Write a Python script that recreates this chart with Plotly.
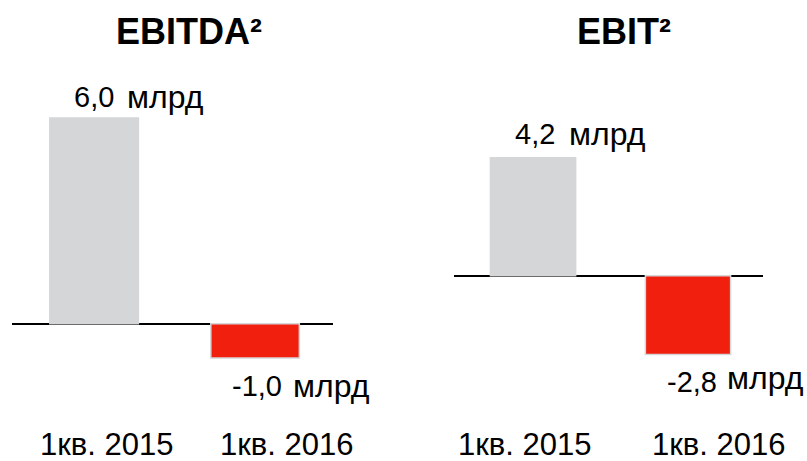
import plotly.graph_objects as go

# ---- data ----
categories = ["1кв. 2015", "1кв. 2016"]
ebitda_values = [6.0, -1.0]
ebit_values = [4.2, -2.8]
ebitda_labels = ["6,0", "-1,0"]
ebit_labels = ["4,2", "-2,8"]
unit = "млрд"
titles = ["EBITDA²", "EBIT²"]

GREY = "#D5D6D8"
RED = "#F01F0E"
FONT = "Liberation Sans, Arial, sans-serif"
W, H = 807, 461

fig = go.Figure()
x_pos = [0, 1]
fig.add_trace(go.Bar(x=x_pos, y=ebitda_values, width=0.55,
                     marker=dict(color=[GREY, RED], line=dict(color=GREY, width=1.5)),
                     xaxis="x", yaxis="y", showlegend=False, hoverinfo="skip"))
fig.add_trace(go.Bar(x=x_pos, y=ebit_values, width=0.55,
                     marker=dict(color=[GREY, RED], line=dict(color=GREY, width=1.5)),
                     xaxis="x2", yaxis="y2", showlegend=False, hoverinfo="skip"))

common_x = dict(showgrid=False, zeroline=False, showticklabels=False, showline=False,
                ticks="", range=[-0.51, 1.484], fixedrange=True)
common_y = dict(showgrid=False, zeroline=True, zerolinecolor="black", zerolinewidth=2,
                showticklabels=False, showline=False, ticks="", domain=[0, 1], fixedrange=True)

fig.update_layout(
    width=W, height=H,
    margin=dict(l=0, r=0, t=0, b=0),
    paper_bgcolor="white", plot_bgcolor="rgba(0,0,0,0)",
    xaxis=dict(domain=[12 / W, 333 / W], anchor="y", **common_x),
    yaxis=dict(range=[-4.0, 9.44], anchor="x", **common_y),
    xaxis2=dict(domain=[454 / W, 763 / W], anchor="y2", **common_x),
    yaxis2=dict(range=[-6.594, 9.811], anchor="x2", **common_y),
    bargap=0,
)

annotations = []

def add_text(text, xref, yref, x, y, xanchor, yanchor, xshift=0, yshift=0, size=28, bold=False):
    annotations.append(dict(
        text=f"<b>{text}</b>" if bold else text, xref=xref, yref=yref, x=x, y=y,
        xanchor=xanchor, yanchor=yanchor, xshift=xshift, yshift=yshift, showarrow=False,
        borderpad=0, font=dict(family=FONT, size=size, color="black")))

NUM_SIZE, UNIT_SIZE, CAT_SIZE, TITLE_SIZE = 29, 32, 31, 36

# value labels (number + unit): (number xshift, unit xshift, number yshift, unit yshift)
label_offsets_left = [(21, 32, 21, 21), (28, 37, -28, -28)]
label_offsets_right = [(23, 35, 24, 24), (30, 38, -28, -24)]
for i in range(2):
    nx, ux, ny, uy = label_offsets_left[i]
    add_text(ebitda_labels[i], "x", "y", x_pos[i], ebitda_values[i], "right", "middle", nx, ny, NUM_SIZE)
    add_text(unit, "x", "y", x_pos[i], ebitda_values[i], "left", "middle", ux, uy, UNIT_SIZE)
    nx, ux, ny, uy = label_offsets_right[i]
    add_text(ebit_labels[i], "x2", "y2", x_pos[i], ebit_values[i], "right", "middle", nx, ny, NUM_SIZE)
    add_text(unit, "x2", "y2", x_pos[i], ebit_values[i], "left", "middle", ux, uy, UNIT_SIZE)

# category labels (pixel shifts relative to bar centres)
cat_shift_left = [12, 31]
cat_shift_right = [-9, 30]
cat_y = (H - 444) / H
for i in range(2):
    add_text(categories[i], "x", "paper", x_pos[i], cat_y, "center", "middle",
             xshift=cat_shift_left[i], size=CAT_SIZE)
    add_text(categories[i], "x2", "paper", x_pos[i], cat_y, "center", "middle",
             xshift=cat_shift_right[i], size=CAT_SIZE)

# titles
title_x = [189 / W, 624 / W]
for i in range(2):
    add_text(titles[i], "paper", "paper", title_x[i], (H - 31) / H, "center", "middle",
             size=TITLE_SIZE, bold=True)

fig.update_layout(annotations=annotations)
fig.write_html("out.html", config={"displayModeBar": False, "staticPlot": True},
               post_script="document.body.style.margin='0';document.body.style.overflow='hidden';")
